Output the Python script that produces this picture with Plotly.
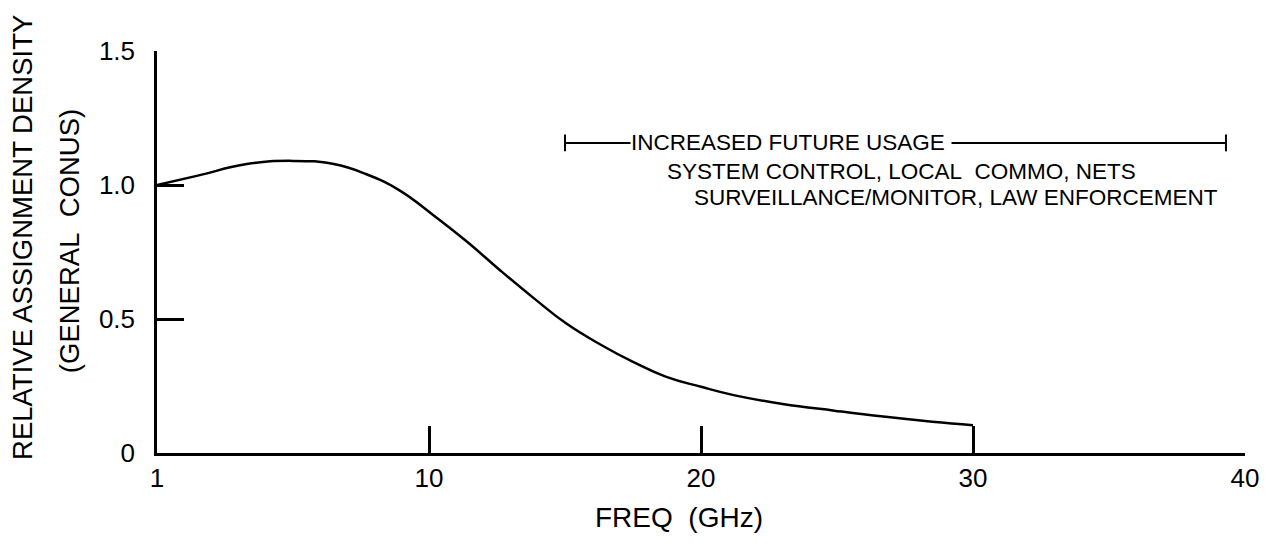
import plotly.graph_objects as go

# ---- data (x in axis position units: first tick labelled "1" sits at 0) ----
freq_pos = [0, 1.5, 3.3, 5.0, 6.5, 7.7, 8.9, 10.15, 11.4, 12.6, 13.85, 15.05,
            16.3, 17.5, 18.7, 20.0, 21.2, 23.0, 24.9, 26.7, 28.5, 30.0]
density = [1.0, 1.035, 1.078, 1.09, 1.078, 1.04, 0.981, 0.888, 0.788, 0.683,
           0.578, 0.483, 0.405, 0.34, 0.285, 0.247, 0.216, 0.183, 0.158,
           0.136, 0.117, 0.104]

x_tickvals = [0, 10, 20, 30, 40]
x_ticktext = ["1", "10", "20", "30", "40"]
y_tickvals = [0, 0.5, 1.0, 1.5]
y_ticktext = ["0", "0.5", "1.0", "1.5"]

usage_range = [15.0, 39.3]
usage_level = 1.157
usage_lines = ["INCREASED FUTURE USAGE",
               "SYSTEM CONTROL, LOCAL\u00a0\u00a0COMMO, NETS",
               "SURVEILLANCE/MONITOR, LAW ENFORCEMENT"]
usage_x = [17.4, 18.7, 19.7]
usage_y = [1.157, 1.049, 0.955]

FONT = "Liberation Sans, Arial, sans-serif"

fig = go.Figure()

fig.add_trace(go.Scatter(
    x=freq_pos, y=density, mode="lines",
    line=dict(color="black", width=2.5, shape="spline", smoothing=1.3),
    hoverinfo="skip", showlegend=False))

# bracket for "increased future usage"
fig.add_trace(go.Scatter(
    x=usage_range, y=[usage_level, usage_level], mode="lines+markers",
    line=dict(color="black", width=2),
    marker=dict(symbol="line-ns", size=12, line=dict(color="black", width=2)),
    hoverinfo="skip", showlegend=False))

for i, (t, xx, yy) in enumerate(zip(usage_lines, usage_x, usage_y)):
    fig.add_annotation(
        x=xx, y=yy, xref="x", yref="y", text=t + ("\u00a0" if i == 0 else ""),
        showarrow=False, xanchor="left", yanchor="middle",
        bgcolor="white" if i == 0 else None, borderpad=0,
        font=dict(family=FONT, size=22.5, color="black"))

# axis titles
fig.add_annotation(
    x=0, y=0.535, xref="paper", yref="paper", xshift=-134,
    text="RELATIVE ASSIGNMENT DENSITY", textangle=-90, showarrow=False,
    xanchor="center", yanchor="middle",
    font=dict(family=FONT, size=27.5, color="black"))
fig.add_annotation(
    x=0, y=0.527, xref="paper", yref="paper", xshift=-88,
    text="(GENERAL\u00a0\u00a0CONUS)", textangle=-90, showarrow=False,
    xanchor="center", yanchor="middle",
    font=dict(family=FONT, size=27.5, color="black"))
fig.add_annotation(
    x=0.48, y=0, xref="paper", yref="paper", yshift=-64,
    text="FREQ  (GHz)", showarrow=False,
    xanchor="center", yanchor="middle",
    font=dict(family=FONT, size=28, color="black"))

fig.update_xaxes(
    range=[0, 40], tickvals=x_tickvals, ticktext=x_ticktext,
    ticks="inside", ticklen=27, tickwidth=2.5, tickcolor="black",
    showline=True, linewidth=2.5, linecolor="black", mirror=False,
    showgrid=False, zeroline=False,
    tickfont=dict(family=FONT, size=26, color="black"))
fig.update_yaxes(
    range=[0, 1.5], tickvals=y_tickvals, ticktext=y_ticktext,
    ticks="inside", ticklen=27, tickwidth=2.5, tickcolor="black",
    showline=True, linewidth=2.5, linecolor="black", mirror=False,
    showgrid=False, zeroline=False, ticklabelstandoff=14,
    tickfont=dict(family=FONT, size=26, color="black"))

fig.update_layout(
    width=1272, height=544,
    margin=dict(l=157, r=27, t=51, b=91),
    paper_bgcolor="white", plot_bgcolor="white",
    showlegend=False)

fig.write_html("out.html", config={"displayModeBar": False})
